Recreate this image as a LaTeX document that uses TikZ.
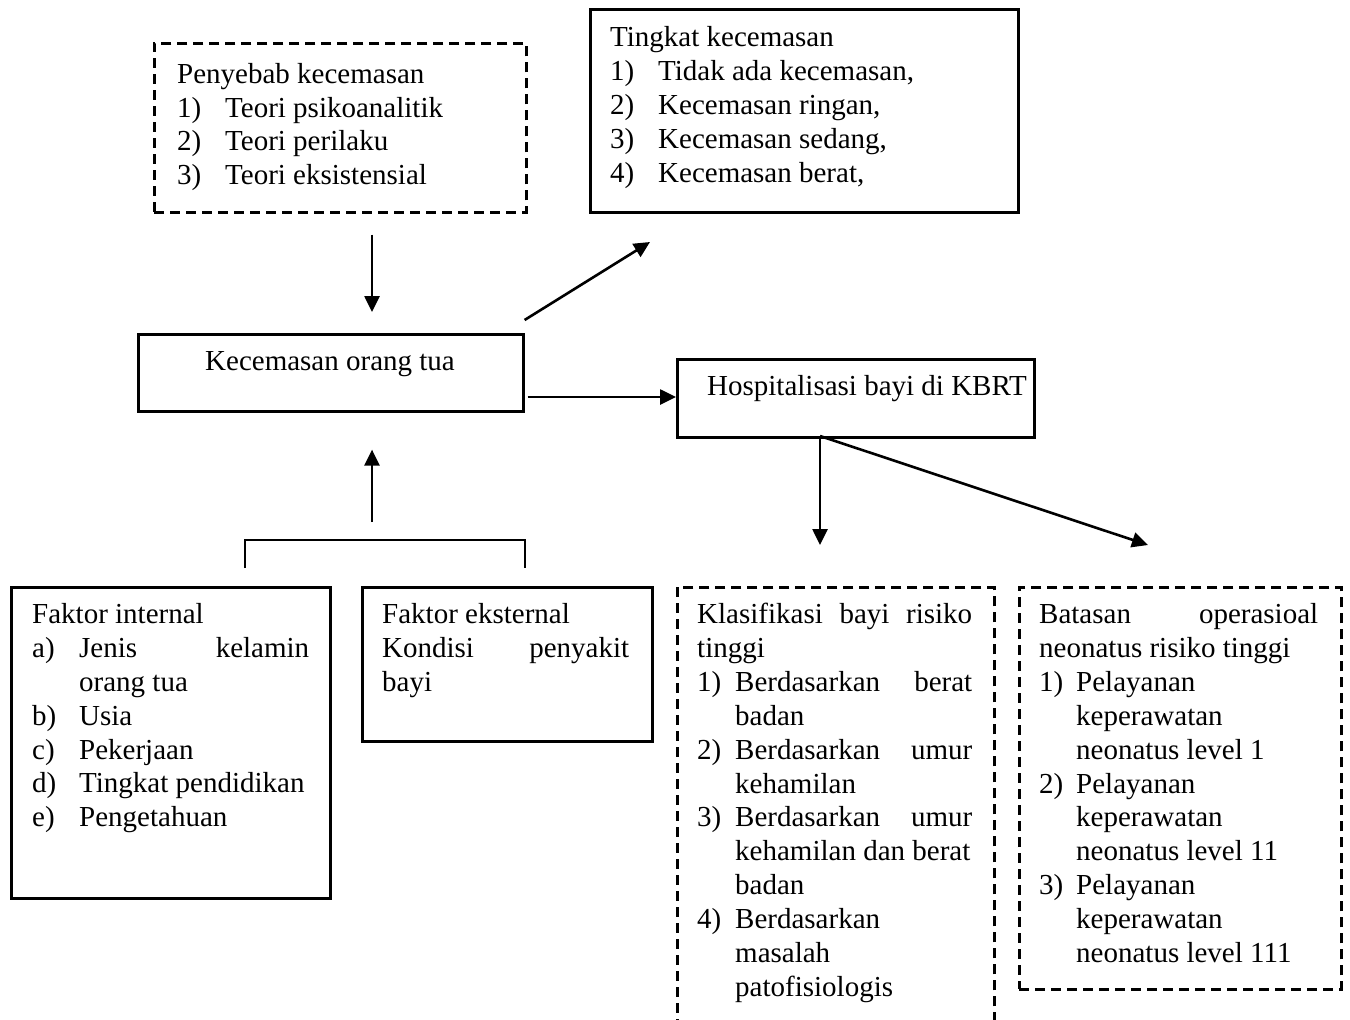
\documentclass[tikz,border=0pt]{standalone}
\usepackage{fontspec}
\setmainfont{Liberation Serif}
\usetikzlibrary{calc, arrows.meta, positioning}

\tikzset{
  box/.style={draw, line width=2.6pt, anchor=north west, inner sep=0pt},
  dbox/.style={box, dash pattern=on 10pt off 6pt},
  txt/.style={anchor=base west, inner sep=0pt, font=\fontsize{29}{34}\selectfont},
  arr/.style={-{Triangle[length=16pt,width=15pt]}, line width=2.6pt},
}

\begin{document}
\begin{tikzpicture}[x=1pt, y=-1pt]
\useasboundingbox (0,0) rectangle (1350,1020);
\clip (0,0) rectangle (1350,1020);

% boxes
\node[dbox, minimum width=372pt, minimum height=169pt] (pen) at (153,42) {};
\node[box, minimum width=428pt, minimum height=203pt] (tkt) at (589,8) {};
\node[box, minimum width=385pt, minimum height=77pt] (kec) at (137,333) {};
\node[box, minimum width=357pt, minimum height=78pt] (hos) at (676,358) {};
\node[box, minimum width=319pt, minimum height=311pt] (fin) at (10,586) {};
\node[box, minimum width=290pt, minimum height=154pt] (fek) at (361,586) {};
\node[dbox, minimum width=317pt, minimum height=470pt] (kla) at (676,586) {};
\node[dbox, minimum width=322pt, minimum height=402pt] (bat) at (1018,586) {};

\coordinate (cMid) at (372,0);
\coordinate (cRow) at (0,397);
\coordinate (cTip) at (650,242);
\coordinate (cSplit) at (820,436);
\coordinate (cTip2) at (1148,545);
\coordinate (cBrL) at (245,540);
\coordinate (cBrR) at (525,540);

% texts
\foreach \x/\y/\t [count=\i] in
{   177/83/Penyebab kecemasan,
    177/117/1), 225/117/Teori psikoanalitik,
    177/150/2), 225/150/Teori perilaku,
    177/184/3), 225/184/Teori eksistensial
}
{
    \node[txt] (pen-\i) at (\x,\y) {\t};
};

\foreach \x/\y/\t [count=\i] in
{   610/46/Tingkat kecemasan,
    610/80/1), 658/80/{Tidak ada kecemasan,},
    610/114/2), 658/114/{Kecemasan ringan,},
    610/148/3), 658/148/{Kecemasan sedang,},
    610/182/4), 658/182/{Kecemasan berat,}
}
{
    \node[txt] (tkt-\i) at (\x,\y) {\t};
};

\node[txt, anchor=base] (kec-t) at (330,370) {Kecemasan orang tua};
\node[txt] (hos-t) at (707,395) {Hospitalisasi bayi di KBRT};

\foreach \x/\y/\t [count=\i] in
{   32/623/Faktor internal,
    32/657/a), 79/657/{\makebox[230pt][s]{Jenis kelamin}},
    79/691/orang tua,
    32/725/b), 79/725/Usia,
    32/759/c), 79/759/Pekerjaan,
    32/792/d), 79/792/Tingkat pendidikan,
    32/826/e), 79/826/Pengetahuan
}
{
    \node[txt] (fin-\i) at (\x,\y) {\t};
};

\foreach \x/\y/\t [count=\i] in
{   382/623/Faktor eksternal,
    382/657/{\makebox[247pt][s]{Kondisi penyakit}},
    382/691/bayi
}
{
    \node[txt] (fek-\i) at (\x,\y) {\t};
};

\foreach \x/\y/\t [count=\i] in
{   697/623/{\makebox[275pt][s]{Klasifikasi bayi risiko}},
    697/657/tinggi,
    697/691/1), 735/691/{\makebox[237pt][s]{Berdasarkan berat}},
    735/725/badan,
    697/759/2), 735/759/{\makebox[237pt][s]{Berdasarkan umur}},
    735/793/kehamilan,
    697/826/3), 735/826/{\makebox[237pt][s]{Berdasarkan umur}},
    735/860/kehamilan dan berat,
    735/894/badan,
    697/928/4), 735/928/Berdasarkan,
    735/962/masalah,
    735/996/patofisiologis
}
{
    \node[txt] (kla-\i) at (\x,\y) {\t};
};

\foreach \x/\y/\t [count=\i] in
{   1039/623/{\makebox[279pt][s]{Batasan operasioal}},
    1039/657/neonatus risiko tinggi,
    1039/691/1), 1076/691/Pelayanan,
    1076/725/keperawatan,
    1076/759/neonatus level 1,
    1039/793/2), 1076/793/Pelayanan,
    1076/826/keperawatan,
    1076/860/neonatus level 11,
    1039/894/3), 1076/894/Pelayanan,
    1076/928/keperawatan,
    1076/962/neonatus level 111
}
{
    \node[txt] (bat-\i) at (\x,\y) {\t};
};

% connectors
\draw[arr, shorten <=21pt, shorten >=21pt] (pen.south -| cMid) -- (kec.north -| cMid);
\draw[arr] ([yshift=13pt]kec.north east) -- (cTip);
\draw[arr, shorten <=3pt] (kec.east |- cRow) -- (hos.west |- cRow);
\draw[arr, shorten >=41pt] (cSplit) -- (kla.north -| cSplit);
\draw[arr] (cSplit) -- (cTip2);
\draw[arr, shorten <=18pt, shorten >=37pt] (cBrL -| cMid) -- (kec.south -| cMid);
\draw[line width=2.6pt] ([yshift=18pt]fin.north -| cBrL) -- (cBrL) -- (cBrR) -- ([yshift=18pt]fek.north -| cBrR);

\end{tikzpicture}
\end{document}
